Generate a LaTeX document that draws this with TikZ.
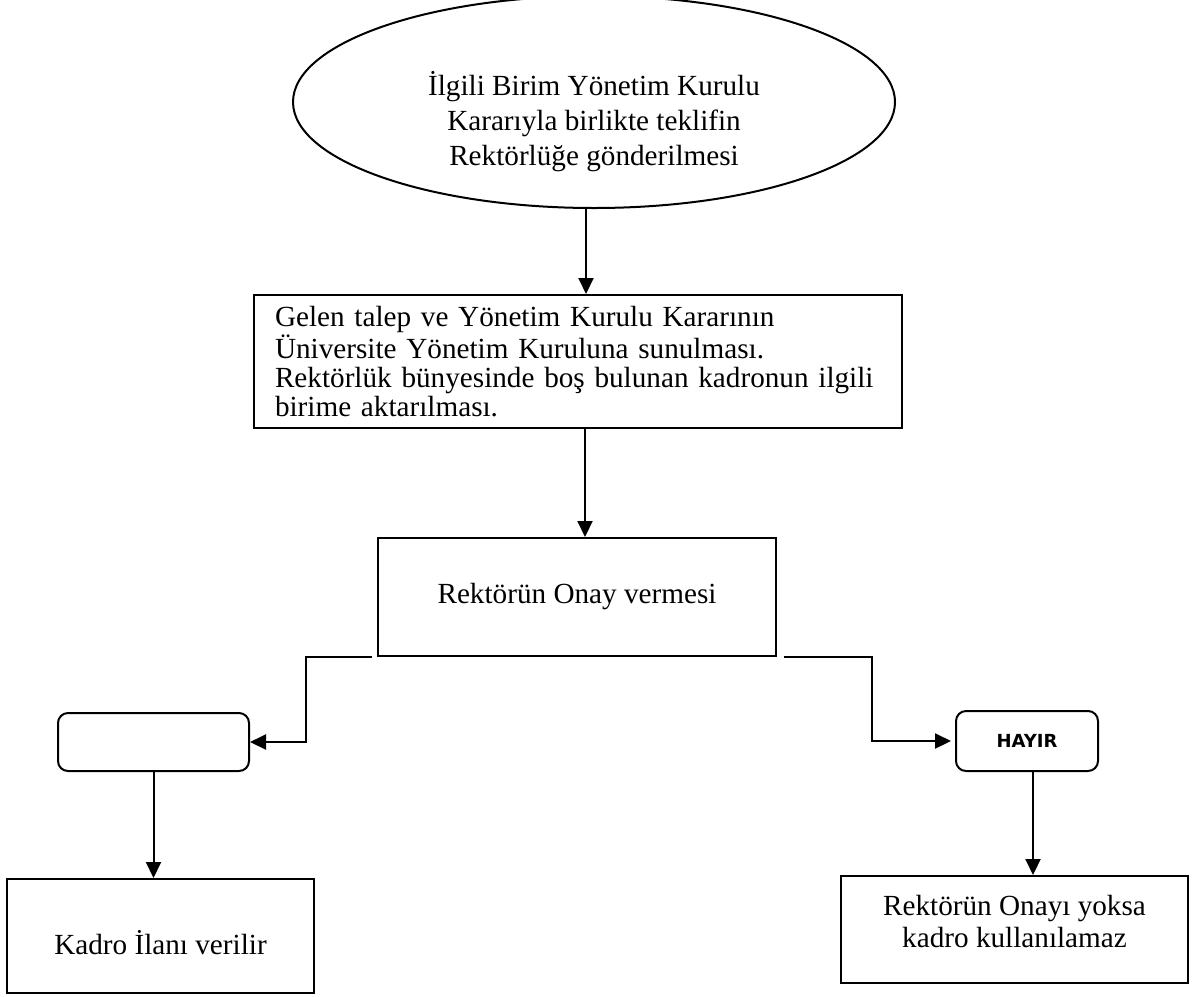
\documentclass[tikz,border=0pt]{standalone}
\usepackage{fontspec}
\setmainfont{Liberation Serif}
\newfontfamily\hayirfont{DejaVu Sans}
\usetikzlibrary{arrows.meta,shapes.geometric}

\tikzset{
  kutu/.style={draw, line width=1pt, inner sep=0pt},
  yuvarlak/.style={kutu, rounded corners=5pt},
  ok/.style={line width=1pt, -{Triangle[length=8pt,width=7.5pt]}},
  yazi/.style={font=\fontsize{14.6}{17.5}\selectfont, align=center}
}

\begin{document}
\begin{tikzpicture}[x=0.5pt, y=-0.5pt]
\clip (0,0) rectangle (1197,996);
        \node[kutu, ellipse, minimum width=301pt, minimum height=106pt,
              label={[yazi, yshift=-10pt, name=ellyazi]center:{İlgili Birim Yönetim Kurulu\\Kararıyla birlikte teklifin\\Rektörlüğe gönderilmesi}}](ell) at (594,102) {};
        \node[kutu, minimum width=324pt, minimum height=66.5pt, inner xsep=10.5pt, text width=303pt, align=left,
              font=\fontsize{14.6}{14.5}\selectfont](talep) at (578,361.5)
              {Gelen talep ve Yönetim Kurulu Kararının\\Üniversite Yönetim Kuruluna sunulması.\\Rektörlük bünyesinde boş bulunan kadronun ilgili\\birime aktarılması.};
        \node[kutu, yazi, minimum width=199pt, minimum height=59pt](onay) at (577,597) {Rektörün Onay vermesi};
\node[yuvarlak, minimum width=95.5pt, minimum height=29pt](evet) at (153.5,742) {};
\node[yuvarlak, minimum width=71pt, minimum height=30pt, font=\hayirfont\bfseries\fontsize{9}{11}\selectfont](hayir) at (1027,741) {HAYIR};
        \node[kutu, minimum width=153.5pt, minimum height=57pt,
              label={[yazi, yshift=-3.5pt, name=ilanyazi]center:{Kadro İlanı verilir}}](ilan) at (160.5,936) {};
        \node[kutu, minimum width=173.5pt, minimum height=53.5pt,
              label={[yazi, font=\fontsize{14.6}{16}\selectfont, yshift=4pt, name=yokyazi]center:{Rektörün Onayı yoksa\\kadro kullanılamaz}}](yok) at (1014.5,929.5) {};

\draw[ok] ([xshift=-4pt]ell.south) -- ([xshift=-4pt]ell.south |- talep.north);
\draw[ok] ([xshift=3.5pt]talep.south) -- ([xshift=3.5pt]talep.south |- onay.north);
        \draw[ok] ([xshift=-2.5pt]onay.south west) -- ++(-66,0) |- (evet.east);
        \draw[ok] ([xshift=3.5pt]onay.south east) -- ++(88,0) |- ([xshift=-2pt]hayir.west);
\draw[ok] (evet.south) -- (evet.south |- ilan.north);
\draw[ok] ([xshift=3pt]hayir.south) -- ([xshift=3pt]hayir.south |- yok.north);

\end{tikzpicture}
\end{document}
